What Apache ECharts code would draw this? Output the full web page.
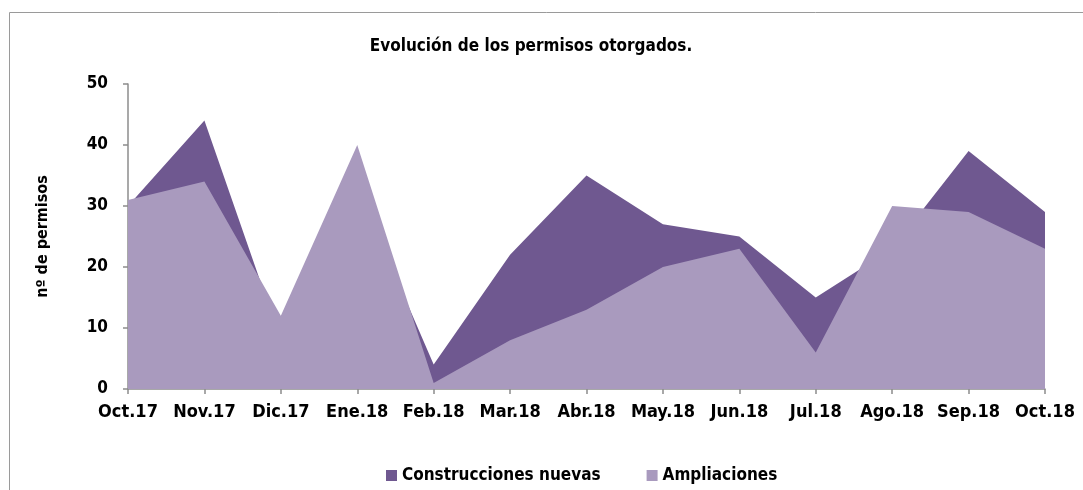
<!DOCTYPE html>
<html>
<head>
<meta charset="utf-8">
<script src="https://cdn.jsdelivr.net/npm/echarts@6/dist/echarts.min.js"></script>
<style>
html,body{margin:0;padding:0;background:#fff;}
#chart{width:1083px;height:490px;}
</style>
</head>
<body>
<div id="chart"></div>
<script>
const categories = ['Oct.17','Nov.17','Dic.17','Ene.18','Feb.18','Mar.18','Abr.18','May.18','Jun.18','Jul.18','Ago.18','Sep.18','Oct.18'];
const construccionesNuevas = [30,44,8,33,4,22,35,27,25,15,23,39,29];
const ampliaciones = [31,34,12,40,1,8,13,20,23,6,30,29,23];
const yTicks = [0,10,20,30,40,50];

const FONT = '"Liberation Sans Narrow","DejaVu Sans Condensed","Open Sans",sans-serif';
const chart = echarts.init(document.getElementById('chart'));
chart.setOption({
  animation: false,
  backgroundColor: '#fff',
  title: {
    text: 'Evolución de los permisos otorgados.',
    left: 526, top: 33, textAlign: 'center',
    textStyle: {fontFamily: FONT, fontWeight: 'bold', fontSize: 17, color: '#000'}
  },
  graphic: [{
    type: 'rect', silent: true,
    shape: {x: 9.5, y: 12.5, width: 1200, height: 600},
    style: {fill: 'none', stroke: '#9a9a9a', lineWidth: 1}
  }],
  legend: {
    data: ['Construcciones nuevas','Ampliaciones'],
    bottom: 1, left: 381,
    icon: 'rect', itemWidth: 11, itemHeight: 11, itemGap: 46,
    textStyle: {fontFamily: FONT, fontWeight: 'bold', fontSize: 17, color: '#000'}
  },
  grid: {left: 128, right: 38, top: 84, bottom: 101},
  xAxis: {
    type: 'category', data: categories, boundaryGap: false,
    axisLine: {lineStyle: {color: '#8c8c8c', width: 1.5}},
    axisTick: {show: true, alignWithLabel: true, length: 5, lineStyle: {color: '#8c8c8c', width: 1.5}},
    axisLabel: {interval: 0, margin: 14, fontFamily: FONT, fontWeight: 'bold', fontSize: 18, color: '#000'}
  },
  yAxis: {
    type: 'value', min: 0, max: 50, interval: 10,
    name: 'nº de permisos', nameLocation: 'middle', nameGap: 77,
    nameTextStyle: {fontFamily: FONT, fontWeight: 'bold', fontSize: 16, color: '#000'},
    axisLine: {show: true, lineStyle: {color: '#8c8c8c', width: 1.5}},
    axisTick: {show: true, length: 5, lineStyle: {color: '#8c8c8c', width: 1.5}},
    splitLine: {show: false},
    axisLabel: {margin: 20, fontFamily: FONT, fontWeight: 'bold', fontSize: 17, color: '#000',
      formatter: v => yTicks.includes(v) ? String(v) : ''}
  },
  series: [
    {name: 'Construcciones nuevas', type: 'line', data: construccionesNuevas,
     showSymbol: false, symbol: 'none', lineStyle: {width: 0}, color: '#6f5890',
     areaStyle: {color: '#6f5890', opacity: 1}, z: 1},
    {name: 'Ampliaciones', type: 'line', data: ampliaciones,
     showSymbol: false, symbol: 'none', lineStyle: {width: 0}, color: '#a99abe',
     areaStyle: {color: '#a99abe', opacity: 1}, z: 2}
  ]
});
</script>
</body>
</html>
